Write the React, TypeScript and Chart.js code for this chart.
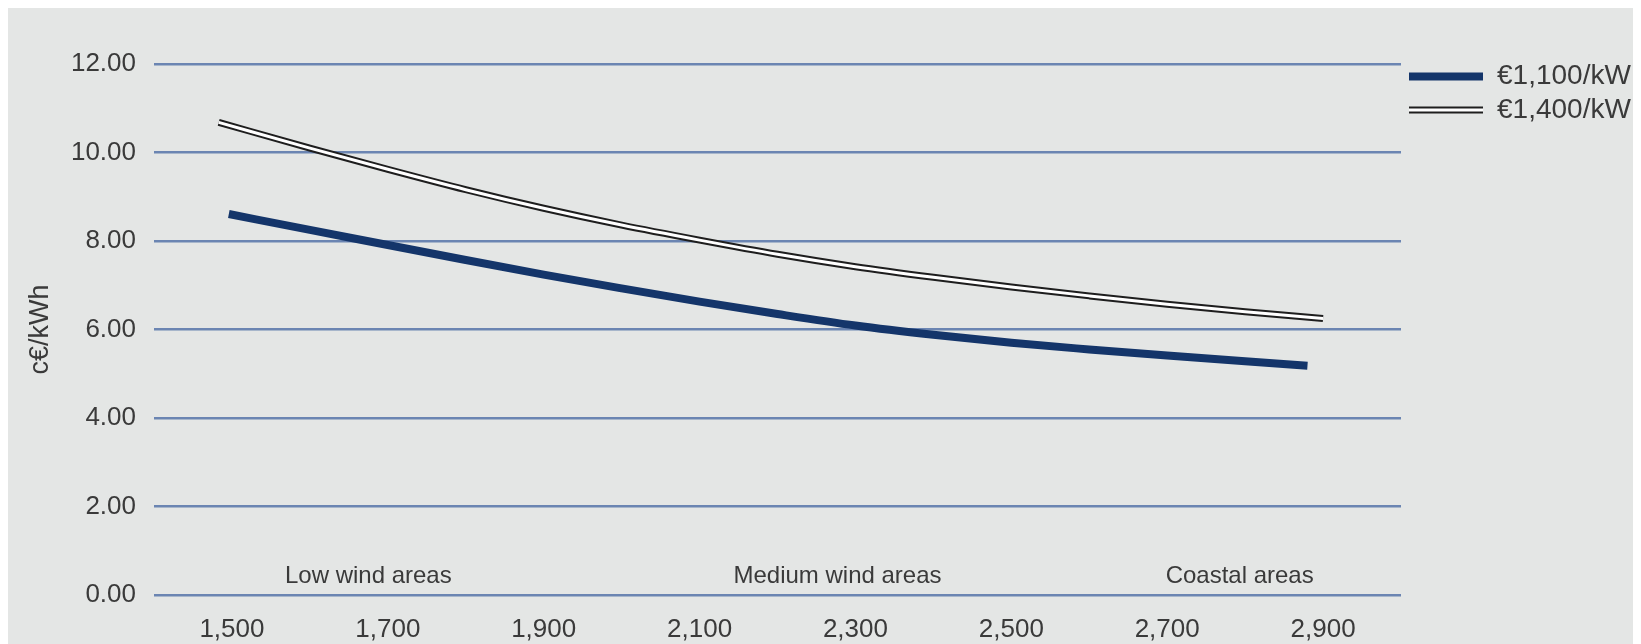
import React, { useEffect, useRef } from "react";
import { Chart, registerables } from "chart.js";

Chart.register(...registerables);

// ---- data ----
const xTicks = [1500, 1700, 1900, 2100, 2300, 2500, 2700, 2900];
const yTicks = [0, 2, 4, 6, 8, 10, 12];
const seriesNames = ["€1,100/kW", "€1,400/kW"];
const hours1100 = [1496, 1600, 1700, 1800, 1900, 2000, 2100, 2200, 2300, 2400, 2500, 2600, 2700, 2800, 2880];
const cost1100 = [8.61, 8.25, 7.91, 7.57, 7.24, 6.93, 6.63, 6.35, 6.09, 5.88, 5.7, 5.55, 5.41, 5.28, 5.18];
const hours1400 = [1483, 1600, 1700, 1800, 1900, 2000, 2100, 2200, 2300, 2400, 2500, 2600, 2700, 2800, 2900];
const cost1400 = [10.68, 10.1, 9.62, 9.16, 8.74, 8.36, 8.02, 7.7, 7.42, 7.18, 6.96, 6.76, 6.57, 6.4, 6.25];
const areaLabels = ["Low wind areas", "Medium wind areas", "Coastal areas"];
const areaLabelHours = [1675, 2277, 2793];
const yTitle = "c€/kWh";

// ---- styles ----
const BG = "#e4e6e5";
const GRID = "#6b85b2";
const NAVY = "#14356a";
const OUTLINE = "#1e1e1e";
const TEXT = "#3a3a3a";
const FONT = "'Liberation Sans', Arial, sans-serif";

const toPoints = (xs: number[], ys: number[]) => xs.map((x, i) => ({ x, y: ys[i] }));

const overlayPlugin = {
  id: "overlay",
  afterDraw(chart: any) {
    const { ctx, scales } = chart;
    const xs = scales.x;
    const ys = scales.y;
    ctx.save();
    // area labels
    ctx.fillStyle = TEXT;
    ctx.font = `24px ${FONT}`;
    ctx.textAlign = "center";
    ctx.textBaseline = "middle";
    const y0 = ys.getPixelForValue(0) - 19;
    areaLabels.forEach((t, i) => {
      ctx.fillText(t, xs.getPixelForValue(areaLabelHours[i]), y0);
    });
    // legend
    const lx0 = 1401;
    const lx1 = 1475;
    const ly = [68.5, 102];
    ctx.lineCap = "butt";
    ctx.beginPath();
    ctx.strokeStyle = NAVY;
    ctx.lineWidth = 8;
    ctx.moveTo(lx0, ly[0]);
    ctx.lineTo(lx1, ly[0]);
    ctx.stroke();
    ctx.beginPath();
    ctx.strokeStyle = OUTLINE;
    ctx.lineWidth = 7;
    ctx.moveTo(lx0, ly[1]);
    ctx.lineTo(lx1, ly[1]);
    ctx.stroke();
    ctx.beginPath();
    ctx.strokeStyle = "#ffffff";
    ctx.lineWidth = 3;
    ctx.moveTo(lx0, ly[1]);
    ctx.lineTo(lx1, ly[1]);
    ctx.stroke();
    ctx.textAlign = "left";
    ctx.font = `28px ${FONT}`;
    ctx.fillStyle = TEXT;
    seriesNames.forEach((n, i) => ctx.fillText(n, 1489, ly[i]));
    ctx.restore();
  },
};

export default function App() {
  const ref = useRef<HTMLCanvasElement | null>(null);

  useEffect(() => {
    document.documentElement.style.overflow = "hidden";
    document.body.style.overflow = "hidden";
    if (!ref.current) return;
    const p1400 = toPoints(hours1400, cost1400);
    const chart = new Chart(ref.current, {
      type: "line",
      data: {
        datasets: [
          {
            label: seriesNames[1] + " inner",
            data: p1400,
            borderColor: "#ffffff",
            borderWidth: 3,
            pointRadius: 0,
            cubicInterpolationMode: "monotone",
            borderCapStyle: "butt",
            order: 0,
          },
          {
            label: seriesNames[1],
            data: p1400,
            borderColor: OUTLINE,
            borderWidth: 7,
            pointRadius: 0,
            cubicInterpolationMode: "monotone",
            borderCapStyle: "butt",
            order: 1,
          },
          {
            label: seriesNames[0],
            data: toPoints(hours1100, cost1100),
            borderColor: NAVY,
            borderWidth: 8,
            pointRadius: 0,
            cubicInterpolationMode: "monotone",
            borderCapStyle: "butt",
            order: 2,
          },
        ],
      },
      options: {
        animation: false,
        responsive: false,
        layout: { padding: { top: 56, right: 240, left: 0, bottom: 0 } },
        plugins: { legend: { display: false }, tooltip: { enabled: false } },
        scales: {
          x: {
            type: "linear",
            min: 1400,
            max: 3000,
            grid: { display: false },
            border: { display: false },
            afterBuildTicks: (s: any) => {
              s.ticks = xTicks.map((v) => ({ value: v }));
            },
            afterFit: (s: any) => {
              s.height = 49;
            },
            ticks: {
              color: TEXT,
              font: { family: FONT, size: 26 },
              padding: 11,
              maxRotation: 0,
              autoSkip: false,
              callback: (v: any) => Number(v).toLocaleString("en-US"),
            },
          },
          y: {
            type: "linear",
            min: 0,
            max: 12,
            afterBuildTicks: (s: any) => {
              s.ticks = yTicks.map((v) => ({ value: v }));
            },
            afterFit: (s: any) => {
              s.width = 146;
            },
            grid: { color: GRID, lineWidth: 2.5, drawTicks: false },
            border: { display: false },
            ticks: {
              color: TEXT,
              font: { family: FONT, size: 26 },
              padding: 18,
              callback: (v: any) => Number(v).toFixed(2),
            },
            title: {
              display: true,
              text: yTitle,
              color: TEXT,
              font: { family: FONT, size: 27 },
              padding: { top: 16, bottom: 0 },
            },
          },
        },
      },
      plugins: [overlayPlugin],
    });
    return () => chart.destroy();
  }, []);

  return (
    <div style={{ width: 1633, height: 636, background: BG }}>
      <canvas ref={ref} width={1633} height={636} style={{ display: "block" }} />
    </div>
  );
}
